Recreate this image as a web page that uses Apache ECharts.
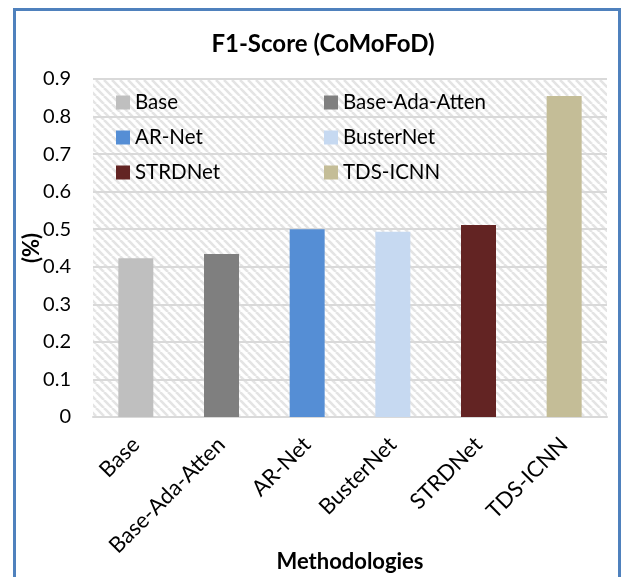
<!DOCTYPE html>
<html>
<head>
<meta charset="utf-8">
<script src="https://cdn.jsdelivr.net/npm/echarts@6/dist/echarts.min.js"></script>
<style>
  html, body { margin: 0; padding: 0; background: #fff; }
  #chart { width: 622px; height: 577px; }
</style>
</head>
<body>
<div id="chart"></div>
<script>
// F1-Score on CoMoFoD per method
const categories = ['Base', 'Base-Ada-Atten', 'AR-Net', 'BusterNet', 'STRDNet', 'TDS-ICNN'];
const f1Scores = [0.423, 0.434, 0.50, 0.493, 0.511, 0.855];
const barColors = ['#bfbfbf', '#7f7f7f', '#558ed5', '#c6d9f1', '#632423', '#c4bd97'];
const yMin = 0;
const yMax = 0.9;
const yStep = 0.1;
const legendLeftColumn = ['Base', 'AR-Net', 'STRDNet'];
const legendRightColumn = ['Base-Ada-Atten', 'BusterNet', 'TDS-ICNN'];

const FONT = 'Lato, "Noto Sans", sans-serif';

// diagonal hatch tile for the plot background
function hatchTile() {
  const s = 8;
  const c = document.createElement('canvas');
  c.width = s; c.height = s;
  const g = c.getContext('2d');
  g.fillStyle = '#ffffff';
  g.fillRect(0, 0, s, s);
  g.strokeStyle = '#e4e4e4';
  g.lineWidth = 2.6;
  for (let k = -1; k <= 1; k++) {
    g.beginPath();
    g.moveTo(k * s, 0);
    g.lineTo(k * s + s, s);
    g.stroke();
  }
  return c;
}

const chart = echarts.init(document.getElementById('chart'), null, { renderer: 'canvas' });

const series = categories.map((name, i) => ({
  name: name,
  type: 'bar',
  stack: 'f1',
  barWidth: 35,
  itemStyle: { color: barColors[i] },
  data: f1Scores.map((v, j) => (j === i ? v : '-'))
}));

function legendColumn(names, left) {
  return {
    orient: 'vertical',
    left: left,
    top: 92,
    itemWidth: 14,
    itemHeight: 14,
    itemGap: 14,
    icon: 'rect',
    padding: 0,
    selectedMode: false,
    data: names,
    textStyle: { fontFamily: FONT, fontSize: 20.5, color: '#000' }
  };
}

chart.setOption({
  animation: false,
  backgroundColor: '#ffffff',
  title: {
    text: 'F1-Score (CoMoFoD)',
    left: 318,
    top: 27,
    textAlign: 'center',
    textStyle: { fontFamily: FONT, fontSize: 24, fontWeight: 'bold', color: '#000' }
  },
  legend: [legendColumn(legendLeftColumn, 116), legendColumn(legendRightColumn, 324)],
  grid: {
    left: 93,
    right: 15,
    top: 79,
    bottom: 160,
    outerBoundsMode: 'none',
    containLabel: false,
    show: true,
    borderWidth: 0,
    backgroundColor: { image: hatchTile(), repeat: 'repeat' }
  },
  xAxis: {
    type: 'category',
    data: categories,
    name: 'Methodologies',
    nameLocation: 'middle',
    nameGap: 134,
    nameMoveOverlap: false,
    nameTextStyle: { fontFamily: FONT, fontSize: 22, fontWeight: 'bold', color: '#000' },
    axisLine: { lineStyle: { color: '#d9d9d9', width: 2 } },
    axisTick: { show: false },
    axisLabel: {
      rotate: 45,
      margin: 24,
      interval: 0,
      fontFamily: FONT,
      fontSize: 22,
      color: '#000'
    }
  },
  yAxis: {
    type: 'value',
    min: yMin,
    max: yMax,
    interval: yStep,
    name: '(%)',
    nameLocation: 'middle',
    nameRotate: 90,
    nameGap: 50,
    nameMoveOverlap: false,
    nameTextStyle: { fontFamily: FONT, fontSize: 22, fontWeight: 'bold', color: '#000' },
    axisLine: { show: false },
    axisTick: { show: false },
    splitLine: { lineStyle: { color: '#d9d9d9', width: 2 } },
    axisLabel: {
      margin: 22,
      fontFamily: FONT,
      fontSize: 20,
      color: '#000',
      formatter: v => (Math.abs(v) < 1e-9 ? '0' : v.toFixed(1))
    }
  },
  graphic: [{
    type: 'rect',
    z: 100,
    silent: true,
    shape: { x: 14.5, y: 9.5, width: 605, height: 620 },
    style: { fill: 'none', stroke: '#4f81bd', lineWidth: 3 }
  }],
  series: series
});
</script>
</body>
</html>
